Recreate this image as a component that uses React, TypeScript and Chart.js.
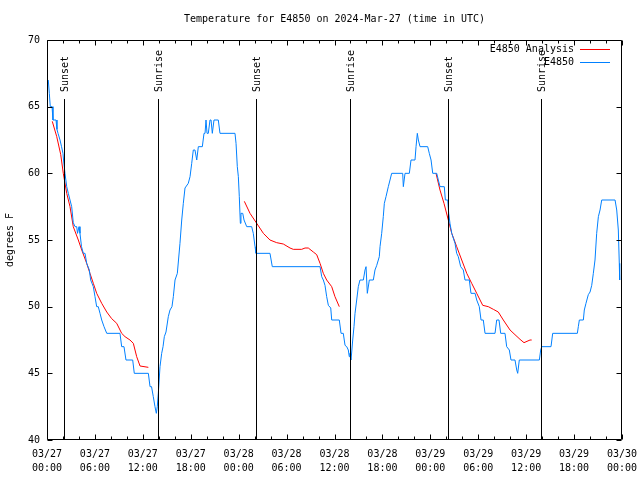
import React, { useEffect, useRef } from "react";
import { Chart, registerables } from "chart.js";

Chart.register(...registerables);

const titleText = "Temperature for E4850 on 2024-Mar-27 (time in UTC)";
const yAxisLabel = "degrees F";
const dayLabels = ["03/27", "03/28", "03/29", "03/30"];
const seriesNames = ["E4850 Analysis", "E4850"];

// x values are hours since 03/27 00:00 UTC
const stationHours = [
  0.16, 0.29, 0.41, 0.63, 0.75, 1.13, 1.25, 1.38, 1.63, 1.82, 2.0, 2.07, 2.25, 2.47, 2.67, 2.88, 3.09, 3.29, 3.51, 3.72,
  3.82, 4.01, 4.13, 4.32, 4.55, 4.76, 4.97, 5.3, 5.47, 5.8, 6.01, 6.22, 6.42, 6.64, 6.85, 7.14, 7.48, 9.14, 9.35, 9.64,
  9.89, 10.73, 10.93, 12.69, 12.9, 13.09, 13.31, 13.52, 13.69, 13.81, 13.94, 14.15, 14.36, 14.53, 14.69, 14.9, 15.19,
  15.4, 15.65, 15.82, 16.03, 16.32, 16.65, 16.87, 17.07, 17.28, 17.69, 17.91, 18.12, 18.32, 18.53, 18.75, 18.95, 19.45,
  19.66, 19.79, 19.91, 20.04, 20.2, 20.41, 20.54, 20.7, 20.91, 21.45, 21.66, 23.54, 23.67, 23.83, 23.96, 24.08, 24.21,
  24.29, 24.51, 24.67, 25.01, 25.63, 25.83, 26.05, 26.17, 27.92, 28.21, 34.19, 34.4, 34.6, 34.81, 35.02, 35.23, 35.53,
  35.65, 36.6, 36.82, 37.1, 37.32, 37.53, 37.73, 37.85, 37.94, 38.07, 38.28, 38.44, 38.57, 38.78, 38.98, 39.19, 39.61,
  39.82, 39.95, 40.11, 40.36, 40.86, 41.07, 41.29, 41.61, 41.7, 41.91, 42.11, 42.24, 42.45, 42.74, 42.95, 43.16, 44.54,
  44.62, 44.83, 45.37, 45.58, 46.08, 46.21, 46.37, 46.5, 46.71, 47.67, 47.87, 48.09, 48.3, 48.8, 49.0, 49.21, 49.75,
  49.88, 50.18, 50.3, 50.46, 50.68, 51.09, 51.3, 51.5, 51.8, 52.13, 52.34, 52.88, 53.09, 53.6, 53.81, 54.13, 54.35,
  54.63, 54.85, 56.1, 56.31, 56.6, 56.81, 57.35, 57.56, 57.89, 58.1, 58.6, 58.82, 58.94, 59.14, 61.65, 61.82, 61.95,
  63.11, 63.32, 66.41, 66.53, 66.66, 67.16, 67.28, 67.49, 67.78, 68.0, 68.21, 68.41, 68.62, 68.83, 69.04, 69.25, 69.46,
  71.13, 71.34, 71.54, 71.66, 71.71,
];
const stationTemps = [
  67, 66, 65, 65, 64, 64, 63.3, 63, 62.5, 62, 61.5, 61, 60, 59, 58.5, 58, 57.5, 56.3, 56, 56,
  55.5, 56, 55.5, 54.5, 54, 54, 53.25, 52.75, 52, 51.5, 50.75, 50, 50, 49.5, 49, 48.5, 48, 48, 47, 47,
  46, 46, 45, 45, 44, 44, 43.25, 42.5, 42, 42.5, 43.5, 45.5, 46.5, 47, 47.75, 48.1, 49.25,
  49.75, 50, 50.75, 52, 52.5, 54.75, 56.5, 57.75, 58.9, 59.25, 59.75, 60.75, 61.75, 61.75, 61, 62, 62,
  63, 63, 64, 63, 63, 64, 64, 63, 64, 64, 63, 63, 62.25, 60.5, 59.75, 58.25, 56.25,
  57, 57, 56.5, 56, 56, 55.5, 54.5, 54, 54, 53, 53, 52.25, 52, 51.6, 50.75, 50.1, 49.9,
  49, 49, 48, 48, 47.1, 47, 46.75, 46.25, 46.5, 46, 47.5, 48.5, 49.5, 50.5, 51.5, 52, 52,
  52.75, 53, 51, 52, 52, 52.75, 53.1, 53.75, 54.5, 55.5, 56.75, 57.75, 58.25, 59, 59.5, 60, 60,
  59, 60, 60, 61, 61, 62, 63, 62.5, 62, 62, 61.5, 61, 60, 60, 59.5, 59, 59,
  58, 58, 57, 56.25, 55.5, 54.75, 54, 53.75, 53, 52.75, 52, 52, 51, 51, 50.5, 50, 49,
  49, 48, 48, 49, 49, 48, 48, 47, 46.75, 46, 46, 45.25, 45, 46, 46, 46.75, 47,
  47, 48, 48, 48.5, 49, 49, 49.75, 50.25, 50.9, 51.1, 51.6, 52.5, 53.5, 55.5, 56.75, 57.25, 58,
  58, 57.25, 55.75, 53.25, 52,
];

const analysisHoursA = [0.66, 1.22, 1.72, 2.04, 2.47, 2.88, 3.29, 3.92, 4.35, 4.97, 5.38, 5.8, 6.22, 6.85, 7.48, 8.1, 8.73, 9.35, 9.77, 10.39, 10.81, 11.23, 11.65, 12.69];
const analysisTempsA = [63.9, 62.75, 61.4, 60, 58.5, 57.5, 56, 55, 54.25, 53.25, 52.5, 51.75, 51, 50.25, 49.6, 49.1, 48.75, 48, 47.75, 47.5, 47.25, 46.25, 45.55, 45.45];
const analysisHoursB = [24.71, 25.42, 26.26, 27.09, 27.92, 28.76, 29.59, 30.43, 30.84, 31.89, 32.31, 32.72, 33.35, 33.77, 34.19, 34.6, 35.02, 35.65, 36.06, 36.6];
const analysisTempsB = [57.9, 57, 56.25, 55.5, 55, 54.8, 54.7, 54.4, 54.3, 54.3, 54.4, 54.4, 54.1, 53.9, 53.25, 52.5, 52, 51.5, 50.75, 50];
const analysisHoursC = [48.71, 49.21, 49.71, 50.25, 50.68, 51.3, 51.93, 52.56, 53.18, 53.81, 54.56, 55.26, 55.89, 56.51, 57.14, 57.98, 58.6, 59.23, 59.73, 60.48, 60.69];
const analysisTempsC = [60, 58.75, 57.75, 56.5, 55.5, 54.5, 53.5, 52.5, 51.75, 51, 50.1, 50, 49.8, 49.6, 49, 48.25, 47.9, 47.55, 47.3, 47.5, 47.5];

const sunHours = [2.17, 13.94, 26.21, 37.88, 50.24, 61.89];
const sunLabels = ["Sunset", "Sunrise", "Sunset", "Sunrise", "Sunset", "Sunrise"];
const sunLineTopTemp = 65.6;
const sunLabelBaseTemp = 66.1;

const xMin = 0;
const xMax = 72;
const xMajorStep = 6;
const xMinorStep = 2;
const yMin = 40;
const yMax = 70;
const yStep = 5;

const FONT = '"DejaVu Sans Mono", "Liberation Mono", monospace';
const RED = "#ff0000";
const BLUE = "#0080ff";

function toPoints(hs: number[], ts: number[]) {
  return hs.map((h, i) => ({ x: h, y: ts[i] }));
}

const gnuplotPlugin = {
  id: "gnuplotDecor",
  afterDraw(chart: any) {
    const { ctx, chartArea: a, scales } = chart;
    const xs = scales.x;
    const ys = scales.y;
    const L = Math.round(a.left) + 0.5;
    const R = Math.round(a.right) - 0.5;
    const T = Math.round(a.top) + 0.5;
    const B = Math.round(a.bottom) - 0.5;
    ctx.save();
    ctx.strokeStyle = "#000";
    ctx.fillStyle = "#000";
    ctx.lineWidth = 1;
    ctx.font = "10px " + FONT;

    // sun lines + labels
    sunHours.forEach((h, i) => {
      const px = Math.round(xs.getPixelForValue(h)) + 0.5;
      const top = Math.round(ys.getPixelForValue(sunLineTopTemp));
      ctx.beginPath();
      ctx.moveTo(px, top);
      ctx.lineTo(px, B);
      ctx.stroke();
      ctx.save();
      ctx.translate(px + 1, ys.getPixelForValue(sunLabelBaseTemp));
      ctx.rotate(-Math.PI / 2);
      ctx.textAlign = "left";
      ctx.textBaseline = "middle";
      ctx.fillText(sunLabels[i], 0, 0);
      ctx.restore();
    });

    // border
    ctx.beginPath();
    ctx.rect(L, T, R - L, B - T);
    ctx.stroke();

    // y ticks (mirrored)
    ctx.beginPath();
    for (let v = yMin; v <= yMax; v += yStep) {
      const py = Math.round(ys.getPixelForValue(v)) + 0.5;
      ctx.moveTo(L, py);
      ctx.lineTo(L + 5, py);
      ctx.moveTo(R, py);
      ctx.lineTo(R - 5, py);
    }
    // x ticks (mirrored), major + minor
    for (let h = xMin; h <= xMax; h += xMinorStep) {
      const px = Math.round(xs.getPixelForValue(h)) + 0.5;
      const len = h % xMajorStep === 0 ? 5 : 3;
      ctx.moveTo(px, B);
      ctx.lineTo(px, B - len);
      ctx.moveTo(px, T);
      ctx.lineTo(px, T + len);
    }
    ctx.stroke();

    // title
    ctx.textAlign = "center";
    ctx.textBaseline = "middle";
    ctx.fillText(titleText, (a.left + a.right) / 2, 19);

    // y axis label
    ctx.save();
    ctx.translate(10, (a.top + a.bottom) / 2);
    ctx.rotate(-Math.PI / 2);
    ctx.textAlign = "center";
    ctx.textBaseline = "middle";
    ctx.fillText(yAxisLabel, 0, 0);
    ctx.restore();

    // legend
    const datasets = chart.data.datasets;
    const order = [1, 0];
    order.forEach((di, row) => {
      const ds = datasets[di];
      const ly = Math.round(a.top + 9 + row * 13) + 0.5;
      ctx.textAlign = "right";
      ctx.textBaseline = "middle";
      ctx.fillStyle = "#000";
      ctx.fillText(ds.label, a.right - 48, ly);
      ctx.strokeStyle = ds.borderColor;
      ctx.beginPath();
      ctx.moveTo(a.right - 42, ly);
      ctx.lineTo(a.right - 12, ly);
      ctx.stroke();
    });
    ctx.restore();
  },
};

export default function App() {
  const canvasRef = useRef<HTMLCanvasElement | null>(null);

  useEffect(() => {
    if (!canvasRef.current) return;
    const analysisData = [
      ...toPoints(analysisHoursA, analysisTempsA),
      { x: (analysisHoursA[analysisHoursA.length - 1] + analysisHoursB[0]) / 2, y: null },
      ...toPoints(analysisHoursB, analysisTempsB),
      { x: (analysisHoursB[analysisHoursB.length - 1] + analysisHoursC[0]) / 2, y: null },
      ...toPoints(analysisHoursC, analysisTempsC),
    ];
    const chart = new Chart(canvasRef.current, {
      type: "line",
      data: {
        datasets: [
          {
            label: seriesNames[1],
            data: toPoints(stationHours, stationTemps),
            borderColor: BLUE,
            backgroundColor: BLUE,
            borderWidth: 1,
            pointRadius: 0,
            tension: 0,
            order: 1,
          },
          {
            label: seriesNames[0],
            data: analysisData as any,
            borderColor: RED,
            backgroundColor: RED,
            borderWidth: 1,
            pointRadius: 0,
            tension: 0,
            spanGaps: false,
            order: 2,
          },
        ],
      },
      options: {
        animation: false,
        responsive: false,
        devicePixelRatio: 1,
        layout: { padding: { top: 40, right: 18, left: 0, bottom: 0 } },
        plugins: {
          legend: { display: false },
          title: { display: false },
          tooltip: { enabled: false },
        },
        scales: {
          x: {
            type: "linear",
            min: xMin,
            max: xMax,
            grid: { display: false, drawTicks: false },
            border: { display: false },
            afterFit: (s: any) => {
              s.height = 40;
              s.paddingLeft = 0;
              s.paddingRight = 0;
            },
            ticks: {
              stepSize: xMajorStep,
              autoSkip: false,
              maxRotation: 0,
              minRotation: 0,
              padding: 7,
              color: "#000",
              font: { family: FONT, size: 10, lineHeight: 1.4 },
              callback: (value: any) => {
                const v = Number(value);
                const d = Math.floor(v / 24);
                const hh = v - d * 24;
                return [dayLabels[d], String(hh).padStart(2, "0") + ":00"];
              },
            },
          },
          y: {
            min: yMin,
            max: yMax,
            grid: { display: false, drawTicks: false },
            border: { display: false },
            afterFit: (s: any) => {
              s.width = 47;
              s.paddingTop = 0;
              s.paddingBottom = 0;
            },
            ticks: {
              stepSize: yStep,
              padding: 7,
              color: "#000",
              font: { family: FONT, size: 10 },
            },
          },
        },
      },
      plugins: [gnuplotPlugin],
    });
    return () => chart.destroy();
  }, []);

  return (
    <div style={{ position: "absolute", left: 0, top: 0, width: 640, height: 480, background: "#fff" }}>
      <canvas ref={canvasRef} width={640} height={480} />
    </div>
  );
}
